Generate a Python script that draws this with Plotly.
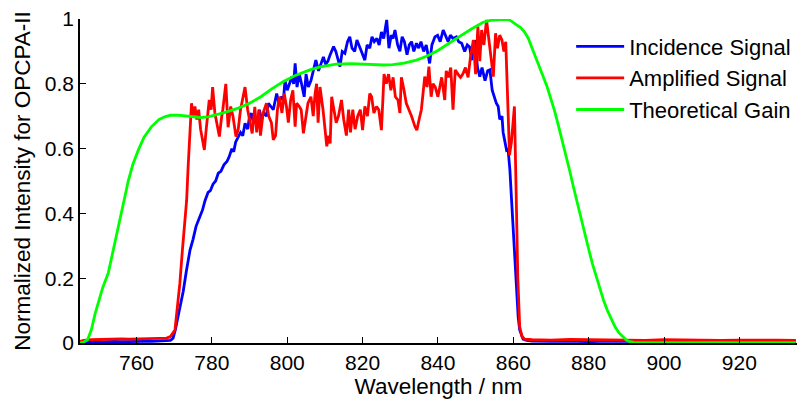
import plotly.graph_objects as go

# ---------------- data ----------------
blue_wl = [745, 746, 748, 750, 752, 754, 756, 758, 760, 762, 764, 766, 768, 769, 769.7, 770.3, 771, 771.7,
           772.4, 773.2, 774.2, 775.0, 775.8, 776.8, 777.5, 778.2, 779.0, 779.6, 780.3, 781.0, 781.7, 782.4,
           783.2, 784.0, 784.6, 785.3, 785.8, 786.3, 787.0, 787.6, 788.2, 788.8, 789.5, 790.0, 790.5, 791.0,
           791.4, 792.0, 792.6, 793.2, 793.8, 794.5, 795.0, 795.7, 796.3, 797.2, 797.8, 798.4, 799.0, 799.4,
           800.0, 800.6, 801.2, 801.7, 802.1, 802.6, 803.2, 803.8, 804.5, 805.0, 805.6, 806.3, 807.0, 807.6,
           808.3, 809.0, 809.6, 810.2, 810.8, 811.4, 812.3, 812.9, 813.4, 814.0, 814.6, 815.3, 816.0, 816.6,
           817.2, 817.9, 818.5, 819.1, 819.7, 820.6, 821.2, 821.9, 822.5, 823.1, 823.8, 824.4, 825.0, 825.6,
           826.4, 827.0, 827.6, 828.1, 828.6, 829.3, 829.9, 830.5, 831.1, 831.8, 832.4, 833.0, 833.6, 834.3,
           834.9, 835.5, 836.2, 836.9, 837.8, 838.4, 839.2, 839.9, 840.6, 841.4, 842.0, 842.7, 843.3, 844.0,
           844.9, 845.5, 846.3, 847.1, 847.8, 848.4, 849.0, 849.8, 850.5, 851.1, 851.7, 852.5, 853.2, 853.8,
           854.4, 854.9, 855.5, 856.0, 856.4, 857.0, 857.3, 857.8, 858.2, 858.6, 859.1, 859.5, 859.9, 860.4,
           860.8, 861.3, 861.7, 862.2, 862.6, 863.5, 865, 870, 875, 880, 885, 890, 895, 900, 905, 910, 915,
           920, 925, 930, 935]
blue_val = [0.0, 0.002, 0.003, 0.004, 0.003, 0.005, 0.004, 0.005, 0.004, 0.005, 0.005, 0.006, 0.006, 0.008,
            0.015, 0.04, 0.08, 0.12, 0.16, 0.22, 0.287, 0.32, 0.36, 0.39, 0.41, 0.44, 0.465, 0.47, 0.49, 0.50,
            0.524, 0.53, 0.55, 0.56, 0.575, 0.60, 0.59, 0.62, 0.637, 0.65, 0.64, 0.678, 0.66, 0.70, 0.709,
            0.68, 0.69, 0.67, 0.72, 0.69, 0.71, 0.70, 0.74, 0.73, 0.72, 0.77, 0.74, 0.76, 0.75, 0.81, 0.78,
            0.80, 0.822, 0.80, 0.863, 0.79, 0.83, 0.80, 0.76, 0.83, 0.79, 0.81, 0.85, 0.873, 0.84, 0.86,
            0.883, 0.86, 0.87, 0.89, 0.915, 0.90, 0.88, 0.853, 0.90, 0.894, 0.93, 0.945, 0.91, 0.90, 0.935,
            0.92, 0.90, 0.873, 0.92, 0.91, 0.945, 0.93, 0.94, 0.92, 0.96, 0.94, 0.997, 0.91, 0.95, 0.94,
            0.966, 0.92, 0.90, 0.945, 0.93, 0.89, 0.92, 0.93, 0.90, 0.925, 0.91, 0.93, 0.90, 0.92, 0.863,
            0.92, 0.945, 0.95, 0.93, 0.966, 0.95, 0.93, 0.95, 0.94, 0.945, 0.93, 0.925, 0.90, 0.92, 0.914,
            0.873, 0.935, 0.85, 0.822, 0.85, 0.81, 0.84, 0.843, 0.78, 0.76, 0.74, 0.73, 0.69, 0.70, 0.65,
            0.62, 0.596, 0.60, 0.534, 0.45, 0.359, 0.25, 0.153, 0.08, 0.04, 0.02, 0.012, 0.008, 0.006, 0.005,
            0.006, 0.004, 0.006, 0.005, 0.004, 0.006, 0.005, 0.004, 0.005, 0.006, 0.004, 0.005, 0.005, 0.004,
            0.005]

red_wl = [745, 746, 748, 750, 752, 754, 756, 758, 760, 762, 764, 766, 768, 769, 770.2, 771, 771.5, 772.2,
          772.9, 773.3, 773.7, 774.2, 774.6, 775.0, 775.5, 776.0, 776.5, 777.0, 777.5, 778.0, 778.5, 779.3,
          779.8, 780.2, 780.8, 781.3, 782.0, 782.5, 782.9, 783.7, 784.3, 785.0, 785.6, 786.4, 787.0, 787.6,
          788.2, 788.8, 789.5, 790.1, 790.7, 791.4, 791.9, 792.5, 792.9, 793.6, 794.5, 795.1, 795.8, 796.3,
          796.9, 797.4, 797.9, 798.6, 799.2, 799.8, 800.3, 800.9, 801.5, 802.1, 802.5, 803.2, 803.7, 804.3,
          805.0, 805.5, 806.3, 806.9, 807.4, 807.8, 808.2, 808.7, 809.5, 810.0, 810.5, 811.0, 811.4, 811.8,
          812.3, 813.0, 813.6, 814.4, 815.0, 815.7, 816.3, 816.8, 817.4, 818.0, 818.7, 819.4, 820.0, 820.6,
          821.3, 821.9, 822.4, 823.0, 823.7, 824.3, 825.0, 825.7, 826.3, 826.9, 827.5, 828.1, 828.7, 829.4,
          829.9, 830.3, 831.0, 831.6, 832.3, 833.0, 833.9, 834.4, 835.0, 835.6, 836.5, 837.1, 837.6, 838.2,
          838.7, 839.3, 840.0, 840.4, 841.0, 841.8, 842.2, 842.8, 843.4, 844.0, 844.6, 845.3, 846.0, 846.6,
          847.3, 848.0, 848.6, 849.4, 850.0, 850.6, 851.1, 851.6, 852.2, 852.9, 853.5, 854.1, 854.7, 855.3,
          855.8, 856.4, 857.0, 857.5, 858.0, 858.4, 859.0, 859.5, 860.3, 860.7, 861.2, 861.7, 862.3, 863.0,
          865, 870, 875, 880, 885, 890, 895, 900, 905, 910, 915, 920, 925, 930, 935]
red_val = [0.005, 0.008, 0.010, 0.011, 0.012, 0.011, 0.013, 0.012, 0.012, 0.013, 0.012, 0.014, 0.015, 0.02,
           0.04, 0.12, 0.184, 0.29, 0.39, 0.44, 0.544, 0.66, 0.74, 0.70, 0.73, 0.69, 0.72, 0.66, 0.627, 0.596,
           0.66, 0.75, 0.72, 0.79, 0.71, 0.68, 0.637, 0.69, 0.72, 0.80, 0.666, 0.73, 0.70, 0.637, 0.66, 0.72,
           0.75, 0.79, 0.72, 0.68, 0.647, 0.729, 0.65, 0.72, 0.64, 0.71, 0.74, 0.70, 0.68, 0.627, 0.64, 0.72,
           0.76, 0.71, 0.77, 0.73, 0.68, 0.75, 0.78, 0.668, 0.74, 0.73, 0.72, 0.647, 0.70, 0.74, 0.76, 0.70,
           0.77, 0.80, 0.68, 0.79, 0.72, 0.67, 0.607, 0.64, 0.616, 0.76, 0.72, 0.68, 0.70, 0.75, 0.69, 0.64,
           0.72, 0.65, 0.72, 0.66, 0.70, 0.72, 0.657, 0.73, 0.70, 0.77, 0.76, 0.71, 0.73, 0.72, 0.657, 0.83,
           0.80, 0.83, 0.78, 0.82, 0.76, 0.75, 0.71, 0.82, 0.78, 0.74, 0.72, 0.70, 0.668, 0.657, 0.69, 0.72,
           0.822, 0.79, 0.853, 0.76, 0.80, 0.79, 0.76, 0.78, 0.82, 0.75, 0.84, 0.82, 0.85, 0.72, 0.843, 0.83,
           0.82, 0.83, 0.85, 0.82, 0.88, 0.935, 0.83, 0.977, 0.87, 0.966, 0.92, 0.997, 0.93, 0.88, 0.822,
           0.956, 0.91, 0.95, 0.935, 0.90, 0.93, 0.77, 0.58, 0.62, 0.73, 0.50, 0.20, 0.05, 0.02, 0.012, 0.010,
           0.009, 0.011, 0.010, 0.009, 0.010, 0.008, 0.010, 0.009, 0.010, 0.008, 0.009, 0.010, 0.009, 0.008]

gain_wl = [745, 746, 747, 748, 749, 750, 751, 752.5, 754, 755.2, 756.5, 757.8, 759, 760.5, 762, 764, 766,
           767.5, 769, 771, 773, 775, 777, 779, 781.3, 783, 785, 787, 790, 793, 796, 799, 802, 806, 809, 813,
           817, 821, 825.5, 828, 831, 834.3, 837, 840, 843.1, 846, 849, 852, 854, 856.4, 857.3, 859, 861, 862,
           863, 864, 865, 866, 867, 868, 869, 870, 871, 872, 873, 874, 875, 876, 877, 878, 879, 880, 881, 882,
           883, 884, 885, 886, 887, 888, 889, 890, 891, 892, 895, 900, 910, 920, 935]
gain_val = [0.0, 0.003, 0.01, 0.04, 0.09, 0.13, 0.17, 0.216, 0.30, 0.36, 0.43, 0.50, 0.55, 0.596, 0.635,
            0.668, 0.69, 0.698, 0.703, 0.703, 0.700, 0.697, 0.696, 0.698, 0.704, 0.71, 0.717, 0.725, 0.74,
            0.76, 0.785, 0.807, 0.825, 0.843, 0.853, 0.861, 0.862, 0.86, 0.858, 0.859, 0.864, 0.873, 0.885,
            0.903, 0.925, 0.948, 0.97, 0.99, 0.996, 0.999, 0.999, 0.997, 0.982, 0.973, 0.96, 0.94, 0.91,
            0.878, 0.85, 0.82, 0.79, 0.755, 0.715, 0.67, 0.625, 0.58, 0.53, 0.48, 0.43, 0.38, 0.335, 0.29,
            0.245, 0.205, 0.165, 0.13, 0.10, 0.072, 0.05, 0.032, 0.019, 0.009, 0.004, 0.002, 0.001, 0.001,
            0.001, 0.001, 0.001]

series_names = ["Incidence Signal", "Amplified Signal", "Theoretical Gain"]
series_colors = ["#0000ff", "#ff0000", "#00ff00"]

x_ticks = [760, 780, 800, 820, 840, 860, 880, 900, 920]
y_ticks = [0, 0.2, 0.4, 0.6, 0.8, 1]
y_tick_labels = ["0", "0.2", "0.4", "0.6", "0.8", "1"]

# ---------------- figure ----------------
FONT = "Liberation Sans, Arial, sans-serif"
fig = go.Figure()
for wl, val, name, col in zip([blue_wl, red_wl, gain_wl], [blue_val, red_val, gain_val],
                              series_names, series_colors):
    fig.add_trace(go.Scatter(x=wl, y=val, mode="lines", name=name,
                             line=dict(color=col, width=2.8)))

fig.update_layout(
    width=797, height=399,
    margin=dict(l=80, r=0, t=19, b=56),
    paper_bgcolor="white", plot_bgcolor="white",
    font=dict(family=FONT, size=21, color="black"),
    showlegend=True,
    legend=dict(x=0.685, y=0.98, xanchor="left", yanchor="top",
                bgcolor="rgba(0,0,0,0)", font=dict(size=22, family=FONT),
                itemwidth=48, tracegroupgap=0),
)
fig.update_xaxes(range=[745, 935.3], tickvals=x_ticks, ticks="inside", ticklen=6,
                 tickcolor="black", showline=True, linecolor="black", linewidth=1.5,
                 showgrid=False, zeroline=False, tickfont=dict(size=21, family=FONT),
                 title=dict(text="Wavelength / nm", font=dict(size=22.5, family=FONT), standoff=7))
fig.update_yaxes(range=[0, 1], tickvals=y_ticks, ticktext=y_tick_labels, ticks="inside", ticklen=6,
                 tickcolor="black", showline=True, linecolor="black", linewidth=1.5,
                 showgrid=False, zeroline=False, tickfont=dict(size=21, family=FONT),
                 title=dict(text="Normalized Intensity for OPCPA-II", font=dict(size=22.5, family=FONT),
                            standoff=8))

fig.write_html("out.html", config={"displayModeBar": False},
               post_script="document.body.style.margin='0';document.body.style.padding='0';")
